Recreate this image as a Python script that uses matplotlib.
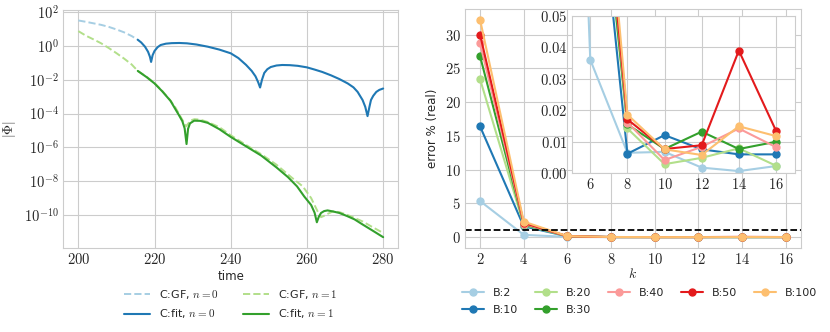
import matplotlib
matplotlib.use("Agg")
import matplotlib.pyplot as plt
import numpy as np
import seaborn as sns
from matplotlib.ticker import FuncFormatter

# --- left panel: log10 |Phi| ---
t_gf0 = [200, 202, 204, 206, 208, 210, 212, 214, 215.6]
v_gf0 = [1.50, 1.42, 1.33, 1.24, 1.12, 0.97, 0.80, 0.58, 0.36]

t_fit0 = [215.6, 216.5, 217.5, 218.3, 218.8, 219.1, 219.5, 220.0, 220.8, 221.6,
          223, 224.5, 226.5, 228.5, 231, 234, 237, 240, 242, 244,
          245.5, 246.5, 247.2, 247.7, 248.2, 248.8, 249.6, 250.5, 252, 253.5,
          255.5, 257.6, 260, 262, 264, 266.3, 268.5, 270.7, 272.2, 273.3,
          274.6, 275.3, 275.9, 276.4, 276.8, 277.4, 278.2, 279.0, 280]
v_fit0 = [0.36, 0.20, -0.05, -0.35, -0.65, -0.95, -0.55, -0.30, -0.08, 0.05,
          0.13, 0.16, 0.17, 0.15, 0.08, -0.05, -0.22, -0.44, -0.72, -1.12,
          -1.48, -1.80, -2.15, -2.46, -2.00, -1.60, -1.38, -1.25, -1.16, -1.13,
          -1.14, -1.18, -1.27, -1.40, -1.54, -1.74, -1.96, -2.22, -2.45, -2.72,
          -3.20, -3.60, -4.15, -3.60, -3.20, -2.95, -2.72, -2.60, -2.52]

t_gf1 = [200, 202, 204, 206, 208, 210, 212, 214, 215.6, 216,
         218, 220, 222, 224, 225.5, 226.5, 227.5, 228.3, 228.8, 229.5,
         230.5, 232, 234, 237, 240, 244, 248, 252, 256, 258.9,
         261.1, 262.8, 263.7, 264.4, 265, 266.8, 268.5, 271, 274.6, 277, 280]
v_gf1 = [0.87, 0.60, 0.38, 0.15, -0.13, -0.43, -0.75, -1.10, -1.48, -1.54,
         -1.84, -2.20, -2.65, -3.18, -3.65, -4.05, -4.45, -4.75, -4.60, -4.40,
         -4.33, -4.36, -4.50, -4.80, -5.28, -5.85, -6.40, -7.02, -7.78, -8.30,
         -8.99, -9.78, -10.12, -10.05, -9.97, -9.78, -9.82, -10.02, -10.37, -10.68, -11.05]

t_fit1 = [215.6, 218, 220, 222, 224.2, 225.5, 226.4, 227.3, 227.9, 228.4,
          228.8, 229.3, 230.4, 232, 234, 237, 240, 244, 248, 252,
          255, 257.4, 259.3, 261.1, 262, 262.6, 263.1, 263.7, 264.5, 265.4,
          266.8, 268.5, 270.5, 272.5, 274.6, 277, 280]
v_fit1 = [-1.48, -1.86, -2.22, -2.68, -3.25, -3.75, -4.09, -4.45, -4.87, -5.80,
          -4.90, -4.58, -4.42, -4.43, -4.55, -4.92, -5.38, -5.93, -6.48, -7.18,
          -7.75, -8.30, -8.90, -9.40, -9.85, -10.42, -10.10, -9.87, -9.76, -9.72,
          -9.78, -9.87, -10.05, -10.25, -10.55, -10.88, -11.30]

# --- right panel: error % vs k ---
k = [2, 4, 6, 8, 10, 12, 14, 16]
err = {
    "B:2":   [5.35, 0.34, 0.036, 0.0065, 0.0068, 0.0018, 0.0007, 0.0023],
    "B:10":  [16.4, 1.6, 0.12, 0.0062, 0.0121, 0.0076, 0.0060, 0.0060],
    "B:20":  [23.4, 1.8, 0.13, 0.0142, 0.0029, 0.0049, 0.0079, 0.0024],
    "B:30":  [26.8, 1.9, 0.13, 0.0155, 0.0077, 0.0132, 0.0077, 0.0100],
    "B:40":  [28.7, 2.0, 0.14, 0.0161, 0.0042, 0.0084, 0.0142, 0.0083],
    "B:50":  [30.0, 2.1, 0.14, 0.0171, 0.0077, 0.0089, 0.0389, 0.0135],
    "B:100": [32.2, 2.3, 0.15, 0.0186, 0.0076, 0.0058, 0.0149, 0.0118],
}
threshold = 1.0

log_ticks = [1e2, 1e0, 1e-2, 1e-4, 1e-6, 1e-8, 1e-10]
time_ticks = [200, 220, 240, 260, 280]
err_ticks = [0, 5, 10, 15, 20, 25, 30]
k_ticks = [2, 4, 6, 8, 10, 12, 14, 16]
inset_xticks = [6, 8, 10, 12, 14, 16]
inset_yticks = [0.0, 0.01, 0.02, 0.03, 0.04, 0.05]

sns.set_style("whitegrid")
plt.rcParams["font.family"] = ["DejaVu Sans"]
plt.rcParams["mathtext.fontset"] = "cm"

pal = sns.color_palette("Paired")

fig = plt.figure(figsize=(8.3, 3.32), dpi=100)
ax1 = fig.add_axes([0.076, 0.253, 0.404, 0.718])
ax2 = fig.add_axes([0.560, 0.253, 0.405, 0.720])

rm = lambda s: r"$\mathrm{" + s + "}$"
lin_fmt = FuncFormatter(lambda v, p: rm(f"{v:g}"))
log_fmt = FuncFormatter(lambda v, p: rm("10^{%d}" % int(round(np.log10(v)))))

ax1.plot(t_gf0, 10 ** np.array(v_gf0), "--", color=pal[0], lw=1.4, label=r"C:GF, $n=0$")
ax1.plot(t_fit0, 10 ** np.array(v_fit0), "-", color=pal[1], lw=1.5, label=r"C:fit, $n=0$")
ax1.plot(t_gf1, 10 ** np.array(v_gf1), "--", color=pal[2], lw=1.4, label=r"C:GF, $n=1$")
ax1.plot(t_fit1, 10 ** np.array(v_fit1), "-", color=pal[3], lw=1.5, label=r"C:fit, $n=1$")
ax1.set_yscale("log")
ax1.set_yticks(log_ticks)
ax1.yaxis.set_minor_locator(matplotlib.ticker.NullLocator())
ax1.yaxis.set_major_formatter(log_fmt)
ax1.set_xticks(time_ticks)
ax1.xaxis.set_major_formatter(lin_fmt)
ax1.set_xlabel("time", fontsize=8.5, labelpad=2)
ax1.set_ylabel(r"$|\Phi|$", fontsize=10, labelpad=4)
ax1.tick_params(labelsize=10.5, length=0, pad=3)
ax1.legend(loc="upper center", bbox_to_anchor=(0.5, -0.125), ncol=2, frameon=False,
           fontsize=8, columnspacing=2.2, handlelength=2.3, labelspacing=0.6)

labels = list(err.keys())
for i, lab in enumerate(labels):
    ax2.plot(k, err[lab], "-o", color=pal[i], lw=1.5, ms=5, label=lab)
ax2.axhline(threshold, color="k", ls="--", lw=1.3)
ax2.set_xticks(k_ticks)
ax2.set_yticks(err_ticks)
ax2.xaxis.set_major_formatter(lin_fmt)
ax2.yaxis.set_major_formatter(lin_fmt)
ax2.set_xlabel(r"$k$", fontsize=10, labelpad=0)
ax2.set_ylabel("error % (real)", fontsize=8.5, labelpad=4)
ax2.tick_params(labelsize=10.5, length=0, pad=3)
ax2.legend(loc="upper center", bbox_to_anchor=(0.52, -0.125), ncol=5, frameon=False,
           fontsize=8, columnspacing=1.5, handlelength=2.0, labelspacing=0.6)

ins = ax2.inset_axes([0.318, 0.3125, 0.663, 0.66])
for i, lab in enumerate(labels):
    ins.plot(k, err[lab], "-o", color=pal[i], lw=1.5, ms=5)
ins.set_xlim(5, 17)
ins.set_ylim(0, 0.05)
ins.set_xticks(inset_xticks)
ins.set_yticks(inset_yticks)
ins.xaxis.set_major_formatter(lin_fmt)
ins.yaxis.set_major_formatter(FuncFormatter(lambda v, p: rm(f"{v:.2f}")))
ins.tick_params(labelsize=10.5, length=0, pad=3)
ins.set_facecolor("white")

fig.savefig("out.png", dpi=100)
